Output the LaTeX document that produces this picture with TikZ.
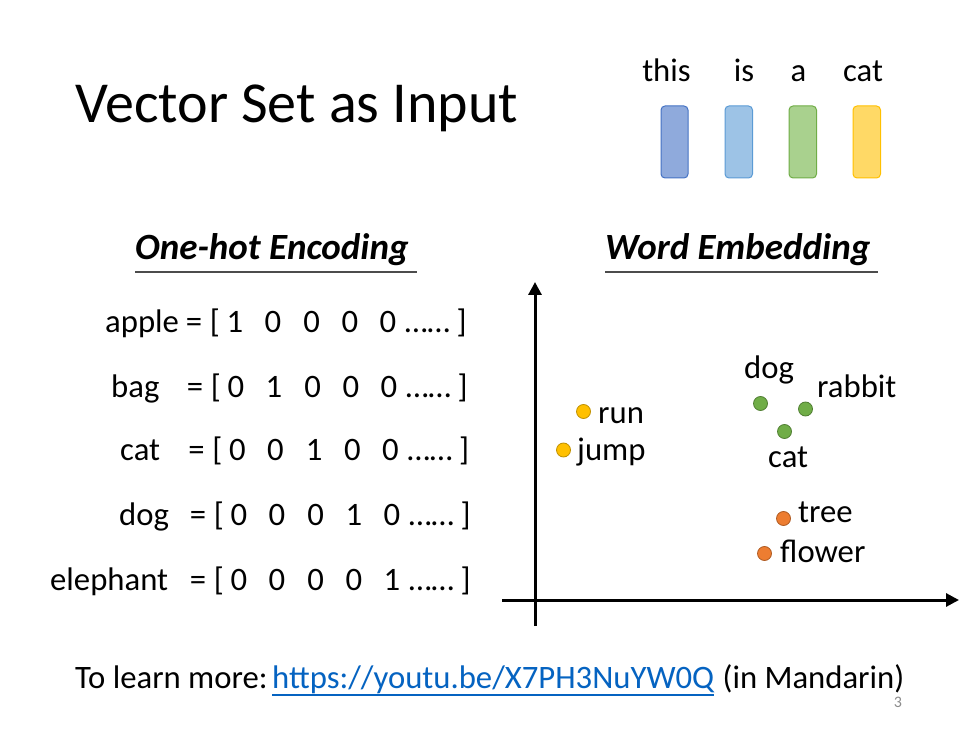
\documentclass[tikz,border=0pt]{standalone}
\usepackage{fontspec}
\setmainfont{Carlito}
\usetikzlibrary{arrows.meta}
\definecolor{barA}{HTML}{8FAADC}\definecolor{barAb}{HTML}{4472C4}
\definecolor{barB}{HTML}{9DC3E6}\definecolor{barBb}{HTML}{5B9BD5}
\definecolor{barC}{HTML}{A9D18E}\definecolor{barCb}{HTML}{70AD47}
\definecolor{barD}{HTML}{FFD966}\definecolor{barDb}{HTML}{FFC000}
\definecolor{ylw}{HTML}{FFC000}\definecolor{ylwb}{HTML}{BF9000}
\definecolor{grn}{HTML}{70AD47}\definecolor{grnb}{HTML}{507E32}
\definecolor{org}{HTML}{ED7D31}\definecolor{orgb}{HTML}{AE5A21}
\definecolor{linkblue}{HTML}{0563C1}
\begin{document}
\begin{tikzpicture}[x=1pt,y=-1pt,
  txt/.style={font=\fontsize{32.7}{40}\selectfont, inner sep=0pt, text=black},
  hdr/.style={font=\fontsize{37}{44}\selectfont\bfseries\itshape, inner sep=0pt, anchor=base west},
  wordbar/.style={rounded corners=4pt, line width=1pt},
  dotyl/.style={circle, fill=ylw, draw=ylwb, line width=0.8pt, minimum size=14pt, inner sep=0pt},
  dotgr/.style={circle, fill=grn, draw=grnb, line width=0.8pt, minimum size=14pt, inner sep=0pt},
  dotor/.style={circle, fill=org, draw=orgb, line width=0.8pt, minimum size=14pt, inner sep=0pt},
  axis/.style={line width=3pt, -{Triangle[length=13pt,width=13pt]}}
]
\useasboundingbox[fill=white] (0,0) rectangle (980,735);

% title
\node[font=\fontsize{58}{66}\selectfont, inner sep=0pt, anchor=base west] (title) at (75,123) {Vector Set as Input};

% sentence words and bars
\node[txt, anchor=base] (wthis) at (666.5,81.7) {this};
\node[txt, anchor=base] (wis) at (744,81.7) {is};
\node[txt, anchor=base] (wa) at (798.5,81.7) {a};
\node[txt, anchor=base] (wcat) at (863,81.7) {cat};
\draw[wordbar, fill=barA, draw=barAb] (661,106) rectangle (688,178);
\draw[wordbar, fill=barB, draw=barBb] (725,106) rectangle (752.5,178);
\draw[wordbar, fill=barC, draw=barCb] (789,106) rectangle (816.5,178);
\draw[wordbar, fill=barD, draw=barDb] (853,106) rectangle (880.5,178);

% headers
\node[hdr] (h1) at (135,259.5) {One-hot Encoding};
\node[hdr] (h2) at (605,259.5) {Word Embedding};
\draw[line width=2pt, black!70] ([yshift=-12.5pt]h1.base west) -- ([yshift=-12.5pt,xshift=8pt]h1.base east);
\draw[line width=2pt, black!70] ([yshift=-13pt]h2.base west) -- ([yshift=-13pt,xshift=8pt]h2.base east);

% one-hot rows
\foreach \w/\wx/\y/\off [count=\i] in {apple/105/333/0, bag/111/397/1, cat/120/460/2.5, dog/119/525/4, elephant/50/590/4}{
  \node[txt, anchor=base west] (w\i) at (\wx,\y) {\w};
  \node[txt, anchor=base] (eq\i) at (194+\off,\y) {=};
  \node[txt, anchor=base] (lb\i) at (215+\off,\y) {[};
  \foreach \dx [count=\j] in {235,273,311.7,350,388}{
    \pgfmathtruncatemacro{\bit}{\i==\j ? 1 : 0}
    \node[txt, anchor=base] (d\i-\j) at (\dx+\off,\y) {\bit};
  }
  \node[txt, anchor=base] (dots\i) at (427.5+\off,\y) {……};
  \node[txt, anchor=base] (rb\i) at (461.7+\off,\y) {]};
}

% axes
\coordinate (ybot) at (535,626);
\coordinate (ytop) at (535,282);
\coordinate (xleft) at (502,600);
\coordinate (xright) at (959,600);
\draw[axis] (ybot) -- (ytop);
\draw[axis] (xleft) -- (xright);

% embedding points
\node[dotyl] (prun) at (583.5,411.5) {};
\node[dotyl] (pjump) at (563.5,450) {};
\node[dotgr] (pdog) at (760.5,403.5) {};
\node[dotgr] (prabbit) at (805.5,409) {};
\node[dotgr] (pcat) at (784.5,431.5) {};
\node[dotor] (ptree) at (783.5,518.5) {};
\node[dotor] (pflower) at (764.5,553.5) {};
\node[txt, anchor=base west] (lrun) at (598,423) {run};
\node[txt, anchor=base west] (ljump) at (577,460) {jump};
\node[txt, anchor=base] (ldog) at (769,378) {dog};
\node[txt, anchor=base west] (lrabbit) at (817,397) {rabbit};
\node[txt, anchor=base west] (lcat) at (768,467) {cat};
\node[txt, anchor=base west] (ltree) at (798,522) {tree};
\node[txt, anchor=base west] (lflower) at (780,562) {flower};

% bottom line
\node[txt, anchor=base west] (more) at (75,688) {To learn more:};
\node[txt, anchor=base west, text=linkblue] (link) at (272,688) {https://youtu.be/X7PH3NuYW0Q};
\node[txt, anchor=base west] (mand) at ([xshift=8pt]link.base east) {(in Mandarin)};
\draw[linkblue, line width=1.5pt] ([yshift=-7pt]link.base west) -- ([yshift=-7pt]link.base east);
\node[font=\fontsize{16}{18}\selectfont, text=black!45, inner sep=0pt] (pg) at (898,702) {3};
\end{tikzpicture}
\end{document}
